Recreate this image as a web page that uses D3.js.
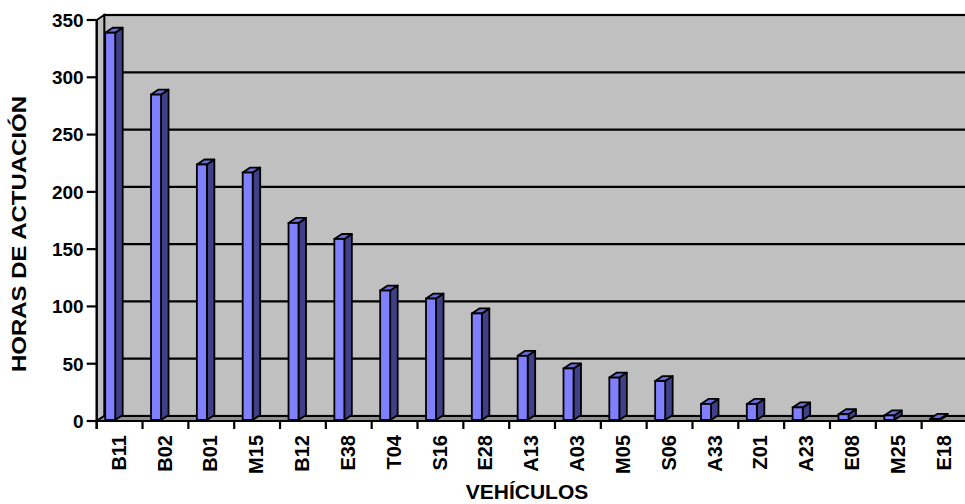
<!DOCTYPE html>
<html>
<head>
<meta charset="utf-8">
<script src="https://cdn.jsdelivr.net/npm/d3@7"></script>
<style>
  body { margin: 0; background: #fff; }
  text { font-family: Arial, "Liberation Sans", sans-serif; font-weight: bold; fill: #000; }
</style>
</head>
<body>
<div id="root"></div>
<script>
// data
const vehiculos = ["B11","B02","B01","M15","B12","E38","T04","S16","E28","A13","A03","M05","S06","A33","Z01","A23","E08","M25","E18"]
const horas = [338, 284, 223, 216, 172, 158, 113, 106, 93, 56, 45, 37, 34, 14, 14, 11, 5, 4, 1]
const yTicks = [0, 50, 100, 150, 200, 250, 300, 350]
const yTitle = "HORAS DE ACTUACIÓN"
const xTitle = "VEHÍCULOS"

function drawChart() {
    const w = 965, h = 504
    const left = 96.7, bottom = 421, top = 20
    const depthX = 7.5, depthY = -5
    const band = 45.83

//scales
    const x = d3.scaleBand()
        .domain(vehiculos)
        .range([left, left + band * vehiculos.length])
        .padding(0)

    const y = d3.scaleLinear()
        .domain([0, 350])
        .range([bottom, top])

    const svg = d3.select("#root").append("svg")
        .attr("width", w)
        .attr("height", h)

    const right = x.range()[1]

    // back wall
    svg.append("rect")
        .attr("x", left + depthX)
        .attr("y", top + depthY)
        .attr("width", right - left + 20)
        .attr("height", bottom - top)
        .attr("fill", "#c0c0c0")
        .attr("stroke", "#000")
        .attr("stroke-width", 2.2)

    // side wall
    svg.append("path")
        .attr("d", `M${left},${top} L${left + depthX},${top + depthY} L${left + depthX},${bottom + depthY} L${left},${bottom} Z`)
        .attr("fill", "#c0c0c0")
        .attr("stroke", "#000")
        .attr("stroke-width", 1.8)

    // gridlines on the wall
    svg.selectAll("line.grid")
        .data(yTicks.filter(d => d > 0 && d < 350))
        .enter().append("line")
        .attr("class", "grid")
        .attr("x1", left + depthX)
        .attr("x2", w)
        .attr("y1", d => y(d) + depthY)
        .attr("y2", d => y(d) + depthY)
        .attr("stroke", "#000")
        .attr("stroke-width", 2.2)

    // floor
    svg.append("path")
        .attr("d", `M${left},${bottom} L${left + depthX},${bottom + depthY} L${right + depthX + 10},${bottom + depthY} L${right + 10},${bottom} Z`)
        .attr("fill", "#8f8f8f")
        .attr("stroke", "#000")
        .attr("stroke-width", 1.8)

    // bars
    const barW = 10, off = 8.5
    const bars = svg.selectAll("g.bar")
        .data(vehiculos.map((v, i) => ({ name: v, value: horas[i] })))
        .enter().append("g")
        .attr("class", "bar")

    bars.append("path") // side
        .attr("d", d => {
            const x1 = x(d.name) + off + barW, yt = y(d.value) - 1, yb = bottom - 1
            return `M${x1},${yb} L${x1},${yt} L${x1 + depthX},${yt + depthY} L${x1 + depthX},${yb + depthY} Z`
        })
        .attr("fill", "#404088")
        .attr("stroke", "#000")
        .attr("stroke-width", 1.8)
        .attr("stroke-linejoin", "round")

    bars.append("path") // top
        .attr("d", d => {
            const x0 = x(d.name) + off, yt = y(d.value) - 1
            return `M${x0},${yt} L${x0 + barW},${yt} L${x0 + barW + depthX},${yt + depthY} L${x0 + depthX},${yt + depthY} Z`
        })
        .attr("fill", "#6a6ad6")
        .attr("stroke", "#000")
        .attr("stroke-width", 1.8)
        .attr("stroke-linejoin", "round")

    bars.append("rect") // front
        .attr("x", d => x(d.name) + off)
        .attr("y", d => y(d.value) - 1)
        .attr("width", barW)
        .attr("height", d => bottom - y(d.value))
        .attr("fill", "#8080ff")
        .attr("stroke", "#000")
        .attr("stroke-width", 1.8)

    // y axis
    svg.append("line")
        .attr("x1", left).attr("x2", left)
        .attr("y1", top).attr("y2", bottom + 8)
        .attr("stroke", "#000").attr("stroke-width", 2.2)

    svg.selectAll("line.ytick")
        .data(yTicks)
        .enter().append("line")
        .attr("class", "ytick")
        .attr("x1", left - 10).attr("x2", left)
        .attr("y1", d => y(d)).attr("y2", d => y(d))
        .attr("stroke", "#000").attr("stroke-width", 2.2)

    svg.selectAll("text.ylab")
        .data(yTicks)
        .enter().append("text")
        .attr("class", "ylab")
        .attr("x", left - 13)
        .attr("y", d => y(d))
        .attr("dy", "0.36em")
        .attr("text-anchor", "end")
        .attr("font-size", 19)
        .text(d => d)

    // x axis
    svg.append("line")
        .attr("x1", left).attr("x2", w)
        .attr("y1", bottom).attr("y2", bottom)
        .attr("stroke", "#000").attr("stroke-width", 2.2)

    svg.selectAll("line.xtick")
        .data(vehiculos)
        .enter().append("line")
        .attr("class", "xtick")
        .attr("x1", d => x(d)).attr("x2", d => x(d))
        .attr("y1", bottom).attr("y2", bottom + 8)
        .attr("stroke", "#000").attr("stroke-width", 2.2)

    svg.selectAll("text.xlab")
        .data(vehiculos)
        .enter().append("text")
        .attr("class", "xlab")
        .attr("transform", d => `translate(${x(d) + x.bandwidth() / 2 - 1},435) rotate(-90)`)
        .attr("dy", "0.36em")
        .attr("text-anchor", "end")
        .attr("font-size", 20)
        .text(d => d)

    // axis titles
    svg.append("text")
        .attr("transform", "translate(18,234) rotate(-90)")
        .attr("dy", "0.36em")
        .attr("text-anchor", "middle")
        .attr("font-size", 21)
        .attr("textLength", 276)
        .attr("lengthAdjust", "spacingAndGlyphs")
        .text(yTitle)

    svg.append("text")
        .attr("x", 527)
        .attr("y", 499)
        .attr("text-anchor", "middle")
        .attr("font-size", 21)
        .text(xTitle)
}

drawChart()
</script>
</body>
</html>
